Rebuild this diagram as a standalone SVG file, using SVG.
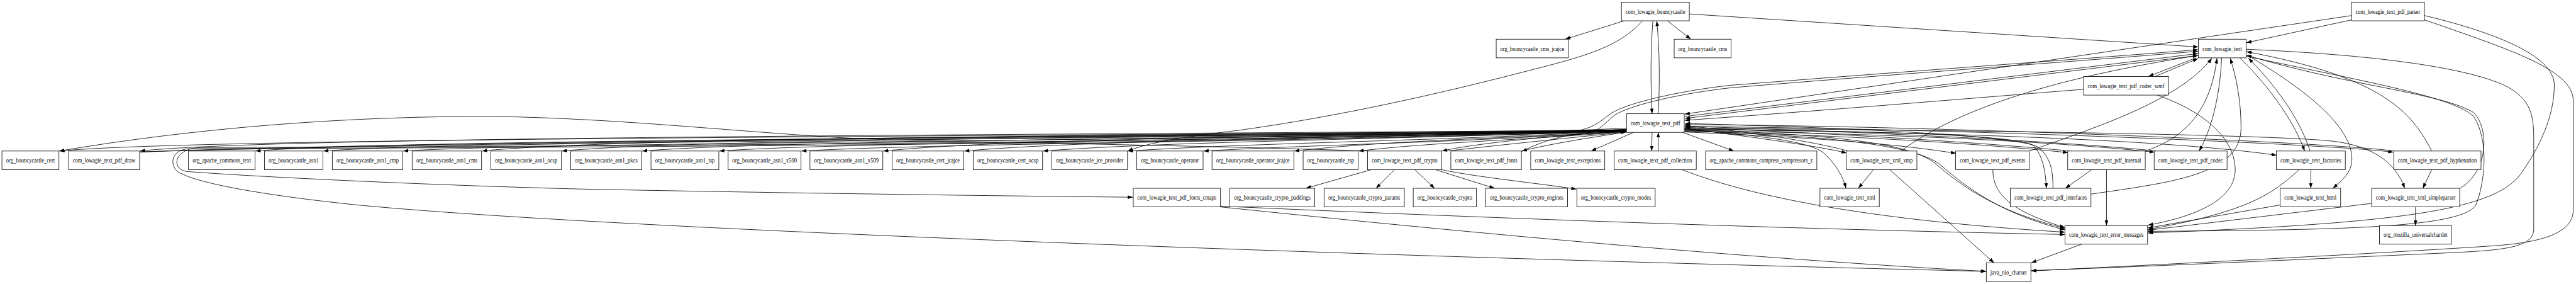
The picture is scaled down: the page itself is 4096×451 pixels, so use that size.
<svg xmlns="http://www.w3.org/2000/svg" width="4096" height="451" viewBox="0 0 4096 451">
<defs>
<marker id="a" viewBox="0 0 10 7" refX="10" refY="3.5" markerWidth="10" markerHeight="7" orient="auto" markerUnits="strokeWidth"><path d="M0,0L10,3.5L0,7z" fill="#000"/></marker>
<style>
.n rect{fill:#fff;stroke:#000;stroke-width:1.333}
.n text{font-family:"Liberation Serif","Times New Roman",serif;font-size:16px;text-anchor:middle;fill:#000}
#edges path{fill:none;stroke:#000;stroke-width:1.333;marker-end:url(#a)}
</style>
</defs>
<rect width="4096" height="451" fill="#fff"/>
<g transform="scale(0.616496)">
<g id="edges">
<path d="M4188,54 L4037,101"/>
<path d="M4301,54 L4361,101"/>
<path d="M4263,54 C4257,130 4257,220 4261,293"/>
<path d="M4277,293 C4281,220 4281,130 4273,54"/>
<path d="M4357,36 L5670,121"/>
<path d="M4236,54 C4180,115 4110,140 3950,180 C3700,245 3450,300 3200,335 C3060,352 2960,367 2909,389"/>
<path d="M6066,51 L5794,110"/>
<path d="M6066,40 L4345,294"/>
<path d="M6253,40 C6420,80 6588,140 6588,219 C6588,300 6550,380 6500,450 C6430,540 6200,575 5540,600"/>
<path d="M6253,51 C6480,130 6637,180 6637,260 L6637,540 C6637,600 6560,625 6420,634 C6100,655 5600,680 5239,698"/>
<path d="M5794,127 C6100,140 6350,170 6460,220 C6530,255 6535,300 6535,360 L6535,590 C6535,640 6450,645 6300,652 C5900,670 5500,688 5239,697"/>
<path d="M5664,149 L5541,197"/>
<path d="M5558,197 L5669,151"/>
<path d="M5374,230 C5000,260 4700,285 4345,310"/>
<path d="M5564,245 C5690,289 5766,360 5765,440 C5762,520 5650,560 5540,580"/>
<path d="M5730,149 C5725,260 5700,340 5672,389"/>
<path d="M5533,389 C5620,360 5700,300 5718,150"/>
<path d="M5234,389 C5400,330 5620,260 5705,150"/>
<path d="M4903,389 C5050,280 5300,200 5669,143"/>
<path d="M5393,500 C5600,470 5780,450 5780,330 C5780,250 5765,190 5752,150"/>
<path d="M5777,149 C5860,230 5920,320 5944,389"/>
<path d="M5958,389 C5930,300 5860,210 5799,150"/>
<path d="M5808,149 C5960,240 6066,330 6066,410 C6066,445 6040,465 6017,485"/>
<path d="M6345,485 C6420,440 6420,330 6380,290 C6300,240 6050,220 5794,142"/>
<path d="M6272,389 C6220,290 6150,200 5794,133"/>
<path d="M5794,145 C6100,210 6330,250 6380,300 C6420,360 6410,470 6385,530 C6340,590 6000,592 5540,596"/>
<path d="M6230,533 L6230,581"/>
<path d="M6272,437 L6249,485"/>
<path d="M5960,437 L5960,485"/>
<path d="M5930,437 C5860,500 5800,545 5540,591"/>
<path d="M5881,528 L5540,587"/>
<path d="M6117,524 L5540,593"/>
<path d="M4345,330 C5000,335 5800,345 6000,362 C6120,372 6180,420 6202,485"/>
<path d="M4345,326 C5000,330 6000,370 6173,392"/>
<path d="M6176,389 C6000,366 5000,324 4346,321"/>
<path d="M4345,333 C5000,340 5600,360 5872,400"/>
<path d="M4345,336 C4900,345 5300,365 5557,392"/>
<path d="M5562,389 C5300,362 4800,340 4346,325"/>
<path d="M4345,338 C4800,350 5100,370 5334,393"/>
<path d="M5340,389 C5100,366 4700,342 4346,328"/>
<path d="M4345,340 C4700,355 4900,372 5045,395"/>
<path d="M4345,331 C4550,356 4700,379 4763,394"/>
<path d="M4766,389 C4700,370 4550,343 4346,324"/>
<path d="M4345,333 C4550,350 4680,365 4710,400 C4740,430 4755,460 4761,485"/>
<path d="M4832,437 L4793,485"/>
<path d="M4874,437 L5143,677"/>
<path d="M4345,334 C4700,345 4920,365 4990,420 C5060,480 5150,545 5326,588"/>
<path d="M4345,337 C4710,350 4940,372 5005,425 C5075,485 5160,550 5326,592"/>
<path d="M5140,437 C5140,490 5170,540 5326,586"/>
<path d="M5395,437 L5327,485"/>
<path d="M5433,437 L5433,581"/>
<path d="M4345,332 C4800,338 5200,345 5245,375 C5268,400 5276,440 5278,485"/>
<path d="M5295,485 C5295,440 5290,405 5255,378 C5200,350 4800,330 4346,318"/>
<path d="M5369,629 L5239,677"/>
<path d="M4338,437 C4450,480 4700,560 5326,598"/>
<path d="M3148,531 C3800,560 4600,590 5326,604"/>
<path d="M3148,533 C3600,580 4400,660 5123,699"/>
<path d="M4195,330 C3500,365 1500,378 520,380 C445,381 440,438 484,442 C700,458 1142,478 1500,487 C2000,497 2600,505 2922,508"/>
<path d="M4195,333 C3500,368 1500,381 490,383 C430,385 440,440 468,447 C520,475 700,505 912,527 C1500,585 3300,655 5122,699"/>
<path d="M4261,341 L4260,389"/>
<path d="M4277,389 L4277,341"/>
<path d="M4213,341 L4104,389"/>
<path d="M4340,341 L4472,389"/>
<path d="M4195,340 C4100,355 4000,370 3925,389"/>
<path d="M3537,437 L3368,485"/>
<path d="M3597,437 L3549,485"/>
<path d="M3649,437 L3700,485"/>
<path d="M3702,437 L3855,485"/>
<path d="M3718,437 C3800,455 3950,470 4066,487"/>
<path d="M4195,337 C4000,350 3800,370 3719,389"/>
<path d="M3732,389 C3900,370 4100,350 4194,340"/>
<path d="M4195,336 C2578,352 502,355 153,389"/>
<path d="M4195,335 C2661,348 710,351 361,389"/>
<path d="M4195,336 C2780,356 1008,359 659,389"/>
<path d="M4195,337 C2850,360 1183,363 834,389"/>
<path d="M4195,338 C2933,364 1389,367 1040,389"/>
<path d="M4195,334 C3014,350 1592,353 1243,389"/>
<path d="M4195,335 C3096,354 1798,357 1449,389"/>
<path d="M4195,336 C3179,358 2005,361 1656,389"/>
<path d="M4195,337 C3259,362 2204,365 1855,389"/>
<path d="M4195,338 C3343,366 2416,369 2067,389"/>
<path d="M4195,334 C3428,352 2627,355 2278,389"/>
<path d="M4195,335 C3511,356 2836,359 2487,389"/>
<path d="M4195,336 C3593,360 3039,363 2690,389"/>
<path d="M4195,337 C3680,364 3258,367 2909,389"/>
<path d="M4195,338 C3758,368 3431,371 3104,389"/>
<path d="M4195,339 C3852,358 3594,361 3338,389"/>
<path d="M4195,339 C3918,362 3711,365 3504,389"/>
<path d="M361,392 C800,370 3000,345 4194,339"/>
<path d="M360,391 C1500,360 3500,345 4000,343 C4100,342 4120,318 4154,293 C4200,262 4350,232 4460,220 C4900,185 5400,150 5669,128"/>
<path d="M3924,391 C3980,360 4050,346 4077,345 C4125,342 4135,320 4165,296 C4215,266 4355,238 4465,226 C4900,190 5400,155 5669,132"/>
<path d="M4345,300 L5669,138"/>
<path d="M5669,143 L4346,305"/>
<path d="M3530,389 C3000,372 2400,365 2210,357 C1900,340 1600,305 1277,300 C900,298 500,330 153,389"/>
</g>
<g id="n_bc" class="n"><rect x="4182" y="5.6" width="175" height="48"/><text x="4269.5" y="35.2" textLength="153.7" lengthAdjust="spacingAndGlyphs">com_lowagie_bouncycastle</text></g>
<g id="n_parser" class="n"><rect x="6065" y="5.6" width="188" height="48"/><text x="6159" y="35.2" textLength="166.7" lengthAdjust="spacingAndGlyphs">com_lowagie_text_pdf_parser</text></g>
<g id="n_cms_jcajce" class="n"><rect x="3859" y="101" width="186" height="48"/><text x="3952" y="130.6" textLength="164.7" lengthAdjust="spacingAndGlyphs">org_bouncycastle_cms_jcajce</text></g>
<g id="n_cms" class="n"><rect x="4318" y="101" width="147" height="48"/><text x="4391.5" y="130.6" textLength="125.7" lengthAdjust="spacingAndGlyphs">org_bouncycastle_cms</text></g>
<g id="n_text" class="n"><rect x="5670" y="101" width="123" height="48"/><text x="5731.5" y="130.6" textLength="101.7" lengthAdjust="spacingAndGlyphs">com_lowagie_text</text></g>
<g id="n_wmf" class="n"><rect x="5374" y="197" width="219" height="48"/><text x="5483.5" y="226.6" textLength="197.7" lengthAdjust="spacingAndGlyphs">com_lowagie_text_pdf_codec_wmf</text></g>
<g id="n_pdf" class="n"><rect x="4195" y="293" width="149" height="48"/><text x="4269.5" y="322.6" textLength="127.7" lengthAdjust="spacingAndGlyphs">com_lowagie_text_pdf</text></g>
<g id="n_bc_cert" class="n"><rect x="5" y="389" width="147" height="48"/><text x="78.5" y="418.6" textLength="125.7" lengthAdjust="spacingAndGlyphs">org_bouncycastle_cert</text></g>
<g id="n_draw" class="n"><rect x="177" y="389" width="183" height="48"/><text x="268.5" y="418.6" textLength="161.7" lengthAdjust="spacingAndGlyphs">com_lowagie_text_pdf_draw</text></g>
<g id="n_ac_text" class="n"><rect x="486" y="389" width="172" height="48"/><text x="572" y="418.6" textLength="150.7" lengthAdjust="spacingAndGlyphs">org_apache_commons_text</text></g>
<g id="n_asn1" class="n"><rect x="682" y="389" width="151" height="48"/><text x="757.5" y="418.6" textLength="129.7" lengthAdjust="spacingAndGlyphs">org_bouncycastle_asn1</text></g>
<g id="n_asn1_cmp" class="n"><rect x="857" y="389" width="182" height="48"/><text x="948" y="418.6" textLength="160.7" lengthAdjust="spacingAndGlyphs">org_bouncycastle_asn1_cmp</text></g>
<g id="n_asn1_cms" class="n"><rect x="1063" y="389" width="179" height="48"/><text x="1152.5" y="418.6" textLength="157.7" lengthAdjust="spacingAndGlyphs">org_bouncycastle_asn1_cms</text></g>
<g id="n_asn1_ocsp" class="n"><rect x="1266" y="389" width="182" height="48"/><text x="1357" y="418.6" textLength="160.7" lengthAdjust="spacingAndGlyphs">org_bouncycastle_asn1_ocsp</text></g>
<g id="n_asn1_pkcs" class="n"><rect x="1472" y="389" width="183" height="48"/><text x="1563.5" y="418.6" textLength="161.7" lengthAdjust="spacingAndGlyphs">org_bouncycastle_asn1_pkcs</text></g>
<g id="n_asn1_tsp" class="n"><rect x="1679" y="389" width="175" height="48"/><text x="1766.5" y="418.6" textLength="153.7" lengthAdjust="spacingAndGlyphs">org_bouncycastle_asn1_tsp</text></g>
<g id="n_asn1_x500" class="n"><rect x="1878" y="389" width="188" height="48"/><text x="1972" y="418.6" textLength="166.7" lengthAdjust="spacingAndGlyphs">org_bouncycastle_asn1_x500</text></g>
<g id="n_asn1_x509" class="n"><rect x="2089" y="389" width="188" height="48"/><text x="2183" y="418.6" textLength="166.7" lengthAdjust="spacingAndGlyphs">org_bouncycastle_asn1_x509</text></g>
<g id="n_cert_jcajce" class="n"><rect x="2301" y="389" width="185" height="48"/><text x="2393.5" y="418.6" textLength="163.7" lengthAdjust="spacingAndGlyphs">org_bouncycastle_cert_jcajce</text></g>
<g id="n_cert_ocsp" class="n"><rect x="2510" y="389" width="179" height="48"/><text x="2599.5" y="418.6" textLength="157.7" lengthAdjust="spacingAndGlyphs">org_bouncycastle_cert_ocsp</text></g>
<g id="n_jce_provider" class="n"><rect x="2713" y="389" width="195" height="48"/><text x="2810.5" y="418.6" textLength="173.7" lengthAdjust="spacingAndGlyphs">org_bouncycastle_jce_provider</text></g>
<g id="n_operator" class="n"><rect x="2932" y="389" width="171" height="48"/><text x="3017.5" y="418.6" textLength="149.7" lengthAdjust="spacingAndGlyphs">org_bouncycastle_operator</text></g>
<g id="n_operator_jcajce" class="n"><rect x="3126" y="389" width="211" height="48"/><text x="3231.5" y="418.6" textLength="189.7" lengthAdjust="spacingAndGlyphs">org_bouncycastle_operator_jcajce</text></g>
<g id="n_tsp" class="n"><rect x="3361" y="389" width="142" height="48"/><text x="3432" y="418.6" textLength="120.7" lengthAdjust="spacingAndGlyphs">org_bouncycastle_tsp</text></g>
<g id="n_pdf_crypto" class="n"><rect x="3527" y="389" width="191" height="48"/><text x="3622.5" y="418.6" textLength="169.7" lengthAdjust="spacingAndGlyphs">com_lowagie_text_pdf_crypto</text></g>
<g id="n_pdf_fonts" class="n"><rect x="3742" y="389" width="182" height="48"/><text x="3833" y="418.6" textLength="160.7" lengthAdjust="spacingAndGlyphs">com_lowagie_text_pdf_fonts</text></g>
<g id="n_exceptions" class="n"><rect x="3948" y="389" width="191" height="48"/><text x="4043.5" y="418.6" textLength="169.7" lengthAdjust="spacingAndGlyphs">com_lowagie_text_exceptions</text></g>
<g id="n_collection" class="n"><rect x="4163" y="389" width="212" height="48"/><text x="4269" y="418.6" textLength="190.7" lengthAdjust="spacingAndGlyphs">com_lowagie_text_pdf_collection</text></g>
<g id="n_compress_z" class="n"><rect x="4399" y="389" width="287" height="48"/><text x="4542.5" y="418.6" textLength="265.7" lengthAdjust="spacingAndGlyphs">org_apache_commons_compress_compressors_z</text></g>
<g id="n_xml_xmp" class="n"><rect x="4762" y="389" width="182" height="48"/><text x="4853" y="418.6" textLength="160.7" lengthAdjust="spacingAndGlyphs">com_lowagie_text_xml_xmp</text></g>
<g id="n_events" class="n"><rect x="5044" y="389" width="190" height="48"/><text x="5139" y="418.6" textLength="168.7" lengthAdjust="spacingAndGlyphs">com_lowagie_text_pdf_events</text></g>
<g id="n_internal" class="n"><rect x="5333" y="389" width="200" height="48"/><text x="5433" y="418.6" textLength="178.7" lengthAdjust="spacingAndGlyphs">com_lowagie_text_pdf_internal</text></g>
<g id="n_codec" class="n"><rect x="5556" y="389" width="188" height="48"/><text x="5650" y="418.6" textLength="166.7" lengthAdjust="spacingAndGlyphs">com_lowagie_text_pdf_codec</text></g>
<g id="n_factories" class="n"><rect x="5871" y="389" width="178" height="48"/><text x="5960" y="418.6" textLength="156.7" lengthAdjust="spacingAndGlyphs">com_lowagie_text_factories</text></g>
<g id="n_hyphenation" class="n"><rect x="6174" y="389" width="225" height="48"/><text x="6286.5" y="418.6" textLength="203.7" lengthAdjust="spacingAndGlyphs">com_lowagie_text_pdf_hyphenation</text></g>
<g id="n_fonts_cmaps" class="n"><rect x="2923" y="485" width="225" height="48"/><text x="3035.5" y="514.6" textLength="203.7" lengthAdjust="spacingAndGlyphs">com_lowagie_text_pdf_fonts_cmaps</text></g>
<g id="n_crypto_paddings" class="n"><rect x="3172" y="485" width="219" height="48"/><text x="3281.5" y="514.6" textLength="197.7" lengthAdjust="spacingAndGlyphs">org_bouncycastle_crypto_paddings</text></g>
<g id="n_crypto_params" class="n"><rect x="3415" y="485" width="207" height="48"/><text x="3518.5" y="514.6" textLength="185.7" lengthAdjust="spacingAndGlyphs">org_bouncycastle_crypto_params</text></g>
<g id="n_crypto" class="n"><rect x="3645" y="485" width="163" height="48"/><text x="3726.5" y="514.6" textLength="141.7" lengthAdjust="spacingAndGlyphs">org_bouncycastle_crypto</text></g>
<g id="n_crypto_engines" class="n"><rect x="3832" y="485" width="211" height="48"/><text x="3937.5" y="514.6" textLength="189.7" lengthAdjust="spacingAndGlyphs">org_bouncycastle_crypto_engines</text></g>
<g id="n_crypto_modes" class="n"><rect x="4067" y="485" width="202" height="48"/><text x="4168" y="514.6" textLength="180.7" lengthAdjust="spacingAndGlyphs">org_bouncycastle_crypto_modes</text></g>
<g id="n_xml" class="n"><rect x="4694" y="485" width="153" height="48"/><text x="4770.5" y="514.6" textLength="131.7" lengthAdjust="spacingAndGlyphs">com_lowagie_text_xml</text></g>
<g id="n_interfaces" class="n"><rect x="5185" y="485" width="208" height="48"/><text x="5289" y="514.6" textLength="186.7" lengthAdjust="spacingAndGlyphs">com_lowagie_text_pdf_interfaces</text></g>
<g id="n_html" class="n"><rect x="5881" y="485" width="156" height="48"/><text x="5959" y="514.6" textLength="134.7" lengthAdjust="spacingAndGlyphs">com_lowagie_text_html</text></g>
<g id="n_simpleparser" class="n"><rect x="6117" y="485" width="227" height="48"/><text x="6230.5" y="514.6" textLength="205.7" lengthAdjust="spacingAndGlyphs">com_lowagie_text_xml_simpleparser</text></g>
<g id="n_error_messages" class="n"><rect x="5326" y="581" width="213" height="48"/><text x="5432.5" y="610.6" textLength="191.7" lengthAdjust="spacingAndGlyphs">com_lowagie_text_error_messages</text></g>
<g id="n_universalchardet" class="n"><rect x="6137" y="581" width="186" height="48"/><text x="6230" y="610.6" textLength="164.7" lengthAdjust="spacingAndGlyphs">org_mozilla_universalchardet</text></g>
<g id="n_java_nio_charset" class="n"><rect x="5123" y="677" width="115" height="48"/><text x="5180.5" y="706.6" textLength="93.7" lengthAdjust="spacingAndGlyphs">java_nio_charset</text></g>
</g>
</svg>
